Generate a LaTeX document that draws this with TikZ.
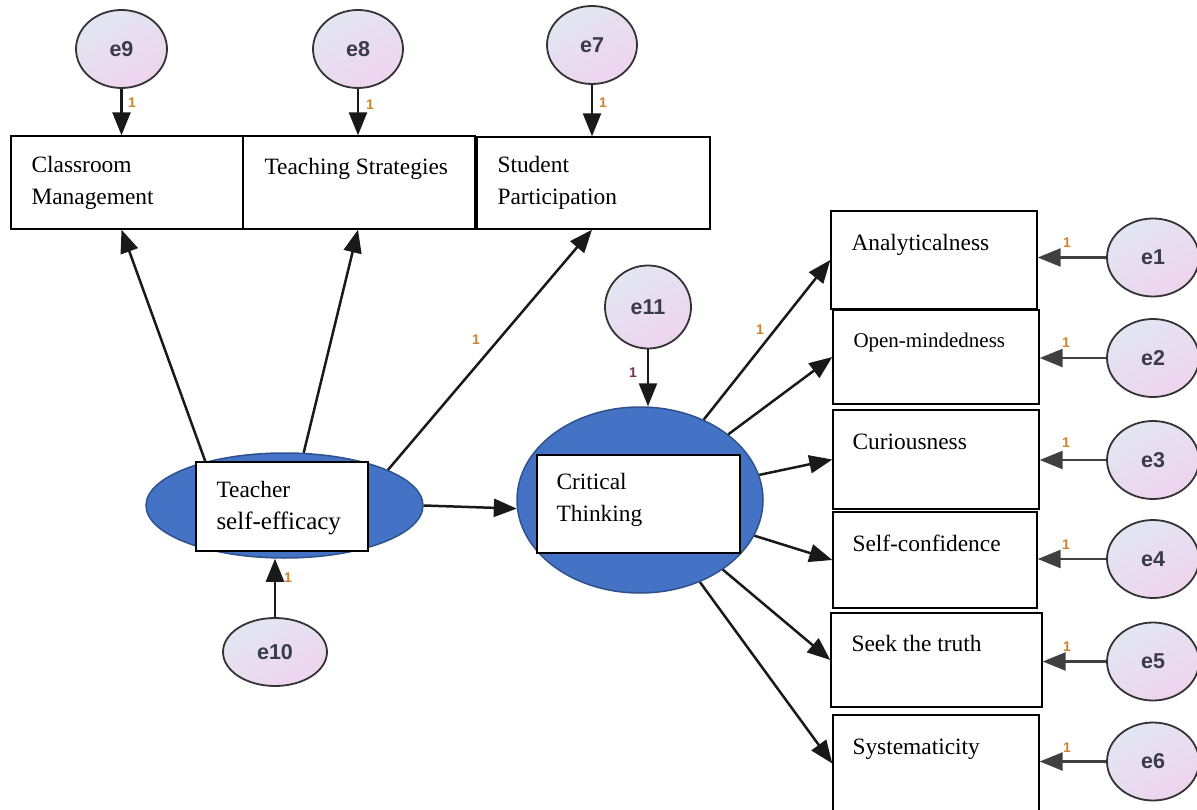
\documentclass[tikz,border=0pt]{standalone}
\usepackage{fontspec}
\setmainfont{Liberation Serif}
\newfontfamily\sansfam{Liberation Sans}
\usetikzlibrary{arrows.meta,calc,shapes.geometric}
\definecolor{latfill}{HTML}{4472C4}
\definecolor{latdraw}{HTML}{2F528F}
\definecolor{errtop}{HTML}{E2E6F3}
\definecolor{errbot}{HTML}{EED4EE}
\definecolor{onecol}{HTML}{D0822C}
\definecolor{onecolb}{HTML}{7B2E5A}
\definecolor{etext}{HTML}{3A3A4A}
\newcommand\bxfont{\fontsize{23.4}{32}\selectfont}
\newcommand\twoline[2]{\vtop{\hbox{#1}\hbox{#2}}}
\begin{document}
\begin{tikzpicture}[x=1pt,y=-1pt,
 obs/.style={draw=black, line width=1.4pt, fill=white, rectangle, inner sep=0pt},
 lat/.style={ellipse, draw=latdraw, line width=1.5pt, fill=latfill, inner sep=0pt},
 err/.style={ellipse, draw=black!80, line width=1.8pt, top color=errtop, bottom color=errbot, shading angle=30, inner sep=0pt, font=\sansfam\bfseries\fontsize{21.5}{21.5}\selectfont, text=etext},
 btext/.style={anchor=base west, inner sep=0pt, font=\bxfont, text=black},
 arr/.style={-{Triangle[length=23pt,width=18pt]}, line width=2.5pt, draw=black!90},
 earr/.style={-{Triangle[length=23pt,width=18pt]}, line width=2.5pt, draw=black!75},
 one/.style={font=\sansfam\bfseries\fontsize{14}{14}\selectfont, text=onecol, inner sep=0pt},
]
\useasboundingbox (0,0) rectangle (1197,810);
\clip (0,0) rectangle (1197,810);

% latent variables
\node[lat, minimum width=277pt, minimum height=105pt] (tse) at (284.5,505.5) {};
\node[obs, minimum width=172pt, minimum height=89pt] (tsebox) at (282,506.5) {};
\node[btext] (tset) at ($(tsebox.north west)+(21,36)$) {\twoline{Teacher}{\fontsize{25}{32}\selectfont self-efficacy}};

\node[lat, minimum width=246pt, minimum height=186pt] (ct) at (640,500) {};
\node[obs, minimum width=203pt, minimum height=98pt] (ctbox) at (638.5,504) {};
\node[btext] (ctt) at ($(ctbox.north west)+(20,35)$) {\twoline{Critical}{Thinking}};

% observed variables, top
\node[obs, minimum width=232pt, minimum height=93pt] (cm) at (127,182.5) {};
\node[btext] (cmt) at ($(cm.north west)+(21,37)$) {\twoline{Classroom}{Management}};
\node[obs, minimum width=232pt, minimum height=93pt] (ts) at (359,182.5) {};
\node[btext] (tst) at ($(ts.north west)+(22,39)$) {Teaching Strategies};
\node[obs, minimum width=233pt, minimum height=92pt] (sp) at (593.5,183) {};
\node[btext] (spt) at ($(sp.north west)+(21,36)$) {\twoline{Student}{Participation}};

% observed variables, right
\node[obs, minimum width=206pt, minimum height=98pt] (an) at (934,260) {};
\node[btext] (ant) at ($(an.north west)+(21,40)$) {Analyticalness};
\node[obs, minimum width=206pt, minimum height=94pt] (om) at (936,357) {};
\node[btext, font=\fontsize{21}{28}\selectfont] (omt) at ($(om.north west)+(21,38)$) {Open-mindedness};
\node[obs, minimum width=206pt, minimum height=99pt] (cu) at (936,459.5) {};
\node[btext] (cut) at ($(cu.north west)+(20,40)$) {Curiousness};
\node[obs, minimum width=204pt, minimum height=96pt] (sc) at (935,560) {};
\node[btext] (sct) at ($(sc.north west)+(20,40)$) {Self-confidence};
\node[obs, minimum width=211pt, minimum height=94pt] (st) at (936.5,660) {};
\node[btext] (stt) at ($(st.north west)+(21,39)$) {Seek the truth};
\node[obs, minimum width=206pt, minimum height=97pt] (sy) at (936,763.5) {};
\node[btext] (syt) at ($(sy.north west)+(20,40)$) {Systematicity};

% error terms
\node[err, minimum width=91pt, minimum height=78pt] (e9) at (121.5,49) {e9};
\node[err, minimum width=90pt, minimum height=78pt] (e8) at (358,49) {e8};
\node[err, minimum width=90pt, minimum height=78pt] (e7) at (592,45) {e7};
\node[err, minimum width=86pt, minimum height=83pt] (e11) at (648,307) {e11};
\node[err, minimum width=104pt, minimum height=68pt] (e10) at (275,652) {e10};
\node[err, minimum width=92pt, minimum height=78pt] (e1) at (1153,257.5) {e1};
\node[err, minimum width=92pt, minimum height=78pt] (e2) at (1153,358) {e2};
\node[err, minimum width=92pt, minimum height=78pt] (e3) at (1153,460) {e3};
\node[err, minimum width=92pt, minimum height=78pt] (e4) at (1153,559) {e4};
\node[err, minimum width=92pt, minimum height=78pt] (e5) at (1153,661.5) {e5};
\node[err, minimum width=92pt, minimum height=78pt] (e6) at (1153,761.5) {e6};

% connectors
\draw[arr] (e9) -- (e9 |- cm.north);
\draw[arr] (e8) -- (e8 |- ts.north);
\draw[arr] (e7) -- (e7 |- sp.north);
\draw[arr] (e10) -- (e10 |- tse.south);
\draw[arr] (e11) -- (e11 |- ct.north);

\draw[arr] (tse.151) -- (e9 |- cm.south);
\draw[arr] (tse.70) -- (e8 |- ts.south);
\draw[arr] (tse.19) -- (e7 |- sp.south);
\draw[arr] (tse.east) -- (ct.184);

\draw[arr] (ct) -- (an.west);
\draw[arr] (ct) -- (om.west);
\draw[arr] (ct) -- (cu.west);
\draw[arr] (ct) -- (sc.west);
\draw[arr] (ct) -- (st.west);
\draw[arr] (ct) -- (sy.west);

\draw[earr] (e1) -- (e1 -| an.east);
\draw[earr] (e2) -- (e2 -| om.east);
\draw[earr] (e3) -- (e3 -| cu.east);
\draw[earr] (e4) -- (e4 -| sc.east);
\draw[earr] (e5) -- (e5 -| st.east);
\draw[earr] (e6) -- (e6 -| sy.east);

% path labels
\node[one] (l9) at (132,103) {1};
\node[one] (l8) at (370,105) {1};
\node[one] (l7) at (603,103) {1};
\node[one] (l10) at (288,578) {1};
\node[one, text=onecolb] (l11) at (633,373) {1};
\node[one] (lsp) at (476,340) {1};
\node[one] (lan) at (760,330) {1};
\node[one] (l1) at (1067,243) {1};
\node[one] (l2) at (1066,343) {1};
\node[one] (l3) at (1066,443) {1};
\node[one] (l4) at (1066,545) {1};
\node[one] (l5) at (1067,647) {1};
\node[one] (l6) at (1067,748) {1};
\end{tikzpicture}
\end{document}
